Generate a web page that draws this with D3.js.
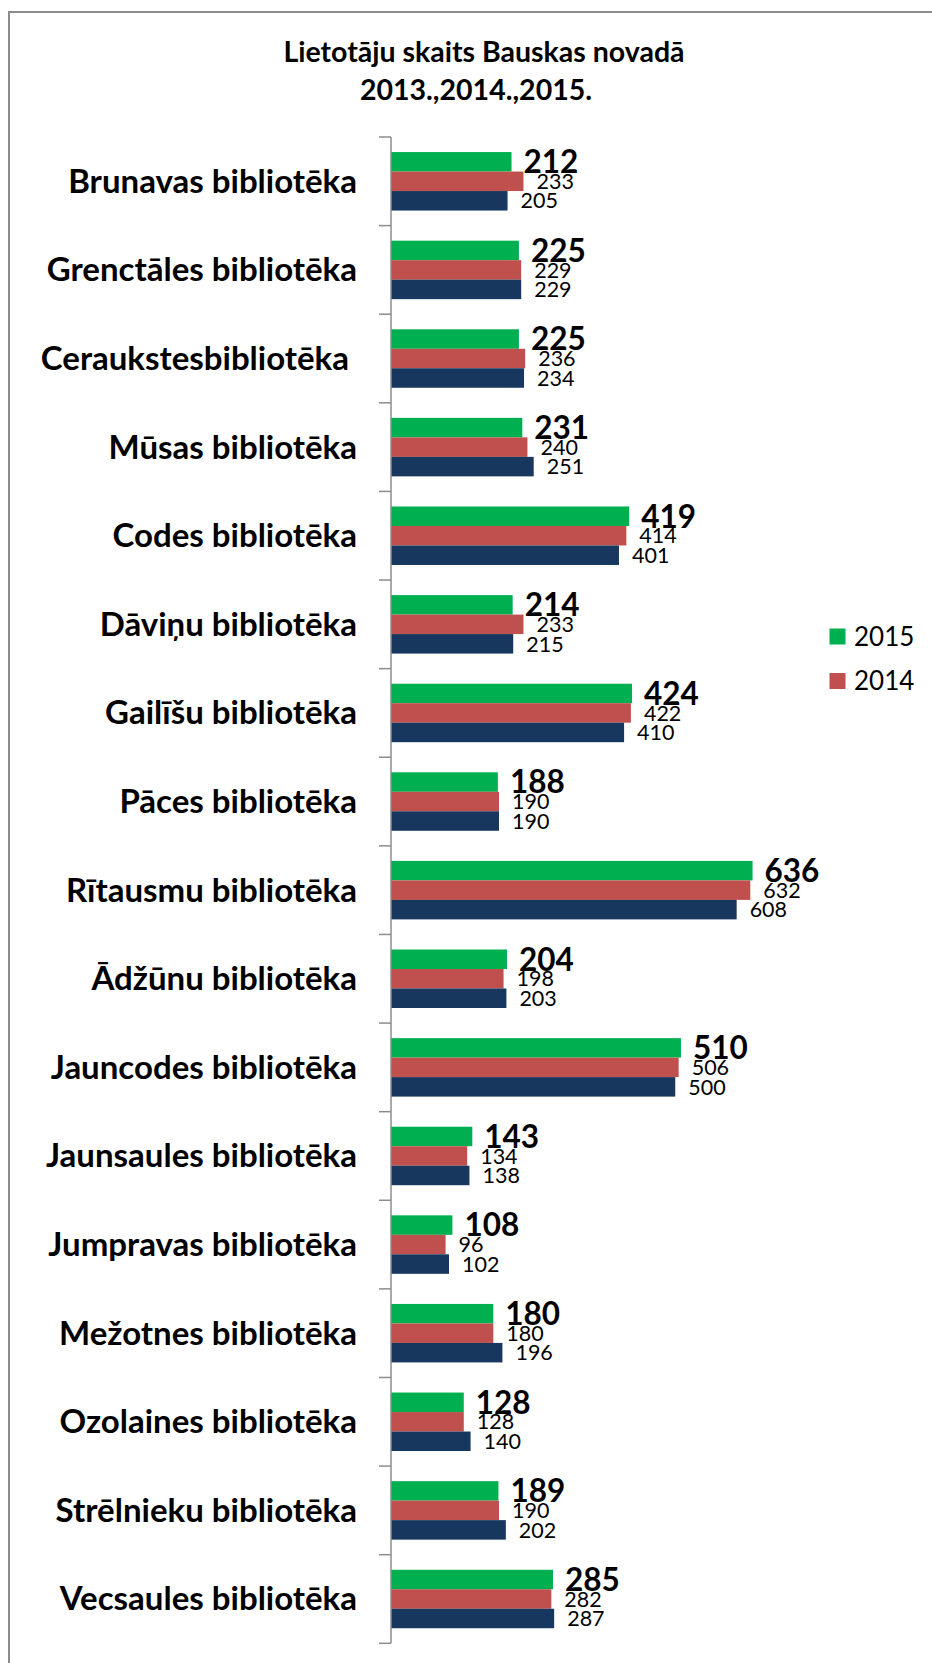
<!DOCTYPE html>
<html>
<head>
<meta charset="utf-8">
<script src="https://cdn.jsdelivr.net/npm/d3@7"></script>
<style>
  html, body { margin: 0; padding: 0; background: #fff; }
  svg { display: block; font-family: Lato, "Open Sans", sans-serif; }
  text { white-space: pre; }
</style>
</head>
<body>
<div id="chart"></div>
<script>
const categories = [
  "Brunavas bibliotēka", "Grenctāles bibliotēka", "Ceraukstesbibliotēka ", "Mūsas bibliotēka",
  "Codes bibliotēka", "Dāviņu bibliotēka", "Gailīšu bibliotēka", "Pāces bibliotēka",
  "Rītausmu bibliotēka", "Ādžūnu bibliotēka", "Jauncodes bibliotēka", "Jaunsaules bibliotēka",
  "Jumpravas bibliotēka", "Mežotnes bibliotēka", "Ozolaines bibliotēka", "Strēlnieku bibliotēka",
  "Vecsaules bibliotēka"
];
const values2015 = [212, 225, 225, 231, 419, 214, 424, 188, 636, 204, 510, 143, 108, 180, 128, 189, 285];
const values2014 = [233, 229, 236, 240, 414, 233, 422, 190, 632, 198, 506, 134, 96, 180, 128, 190, 282];
const values2013 = [205, 229, 234, 251, 401, 215, 410, 190, 608, 203, 500, 138, 102, 196, 140, 202, 287];
const seriesNames = ["2015", "2014", "2013"];
const legendNames = ["2015", "2014"];
const titleLines = ["Lietotāju skaits Bauskas novadā", "2013.,2014.,2015."];

const colors = { "2015": "#00B050", "2014": "#C0504D", "2013": "#17375E" };
const seriesValues = { "2015": values2015, "2014": values2014, "2013": values2013 };

const W = 932, H = 1663;
const svg = d3.select("#chart").append("svg").attr("width", W).attr("height", H);

// outer frame (extends beyond the picture at right and bottom)
svg.append("path")
  .attr("d", `M9,${H + 5} L9,12 L${W + 5},12`)
  .attr("fill", "none").attr("stroke", "#8c8c8c").attr("stroke-width", 2);

// title
const titleX = [484, 476];
const titleY = [61.5, 99.5];
svg.append("g").selectAll("text").data(titleLines).join("text")
  .attr("x", (d, i) => titleX[i]).attr("y", (d, i) => titleY[i])
  .attr("text-anchor", "middle").attr("font-weight", "bold").attr("font-size", 28.5)
  .attr("fill", "#000").text(d => d);

const x = d3.scaleLinear().domain([0, 700]).range([391, 391 + 700 * 0.5685]);
const y = d3.scaleBand().domain(categories).range([137, 1643.3]).paddingInner(0.34).paddingOuter(0.17);
const ys = d3.scaleBand().domain(seriesNames).range([0, y.bandwidth()]);

const rows = categories.map((c, i) => ({ cat: c, vals: seriesNames.map(s => ({ s, v: seriesValues[s][i] })) }));

const g = svg.append("g");
const grp = g.selectAll("g.cat").data(rows).join("g").attr("class", "cat")
  .attr("transform", d => `translate(0,${y(d.cat)})`);

grp.selectAll("rect").data(d => d.vals).join("rect")
  .attr("x", x(0)).attr("y", d => ys(d.s))
  .attr("width", d => x(d.v) - x(0)).attr("height", ys.bandwidth())
  .attr("fill", d => colors[d.s]);

const fsBold = 31.5, fsReg = 21.5;
grp.selectAll("text.val").data(d => d.vals).join("text").attr("class", "val")
  .attr("x", d => x(d.v) + (d.s === "2015" ? 12 : 13))
  .attr("y", d => {
    const fs = d.s === "2015" ? fsBold : fsReg;
    return ys(d.s) + ys.bandwidth() / 2 + fs * 0.358;
  })
  .attr("font-size", d => d.s === "2015" ? fsBold : fsReg)
  .attr("font-weight", d => d.s === "2015" ? "bold" : "normal")
  .attr("fill", "#000")
  .text(d => d.v);

// category axis
const axisX = x(0);
const step = y.step();
const [r0] = y.range();
const tickYs = d3.range(categories.length + 1).map(i => r0 + i * step);
g.append("line").attr("x1", axisX).attr("x2", axisX)
  .attr("y1", r0).attr("y2", r0 + categories.length * step)
  .attr("stroke", "#8c8c8c").attr("stroke-width", 1.5);
g.selectAll("line.tick").data(tickYs).join("line").attr("class", "tick")
  .attr("x1", axisX - 12).attr("x2", axisX).attr("y1", d => d).attr("y2", d => d)
  .attr("stroke", "#8c8c8c").attr("stroke-width", 1.5);

g.selectAll("text.cat").data(categories).join("text").attr("class", "cat")
  .attr("x", 357)
  .attr("y", d => y(d) + y.bandwidth() / 2 + 11.5)
  .attr("text-anchor", "end").attr("font-weight", "bold").attr("font-size", 33)
  .attr("fill", "#000").text(d => d);

// legend
const lg = svg.append("g").selectAll("g").data(legendNames).join("g")
  .attr("transform", (d, i) => `translate(829.5,${636.5 + i * 44.5})`);
lg.append("rect").attr("x", 0).attr("y", -8).attr("width", 16).attr("height", 16)
  .attr("fill", d => colors[d]);
lg.append("text").attr("x", 24.5).attr("y", 9.3).attr("font-size", 26).attr("fill", "#000").text(d => d);
</script>
</body>
</html>
